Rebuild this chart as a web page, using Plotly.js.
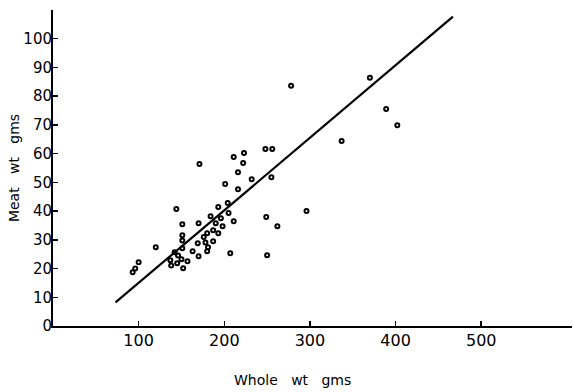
<!DOCTYPE html>
<html>
<head>
<meta charset="utf-8">
<script src="https://cdn.plot.ly/plotly-3.0.1.min.js"></script>
<style>html,body{margin:0;padding:0;background:#fff;}#chart{width:573px;height:392px;}</style>
</head>
<body>
<div id="chart"></div>
<script>
// Observed specimens: whole weight (g) vs meat weight (g)
const wholeWt = [93, 96, 100, 120, 137, 138, 142, 145, 150, 152,
  144, 151, 151, 151, 151, 163, 170, 169, 178, 181,
  180, 180, 187, 193, 198, 190, 170, 184, 193, 204,
  205, 196, 211, 207, 249, 262, 250, 296, 201, 216,
  232, 255, 216, 222, 171, 211, 223, 248, 256, 278,
  370, 389, 402, 337, 157, 146, 176, 187];
const meatWt = [18.7, 20, 22.2, 27.4, 22.9, 21.1, 25.7, 21.8, 23.2, 20.1,
  40.7, 35.4, 31.6, 29.8, 27.1, 26, 24.3, 28.8, 29.1, 27.4,
  26, 32.3, 33.3, 32.3, 34.7, 35.8, 35.8, 38.2, 41.4, 42.8,
  39.3, 37.5, 36.5, 25.3, 37.9, 34.7, 24.6, 40, 49.4, 47.6,
  51.1, 51.8, 53.5, 56.7, 56.4, 58.8, 60.2, 61.6, 61.6, 83.6,
  86.4, 75.5, 69.9, 64.4, 22.5, 24.5, 31, 29.5];
// Fitted line end points
const fitX = [73, 467];
const fitY = [8.2, 107.7];
const xTicks = [100, 200, 300, 400, 500];
const yTicks = [0, 10, 20, 30, 40, 50, 60, 70, 80, 90, 100];

const traces = [
  {x: wholeWt, y: meatWt, type: 'scatter', mode: 'markers',
   marker: {symbol: 'circle-open', size: 4, color: '#000', line: {width: 2, color: '#000'}},
   hoverinfo: 'x+y'},
  {x: fitX, y: fitY, type: 'scatter', mode: 'lines', line: {color: '#000', width: 2.2}}
];

const layout = {
  width: 573, height: 392,
  margin: {l: 53, r: 1, t: 10, b: 66},
  paper_bgcolor: '#fff', plot_bgcolor: '#fff',
  showlegend: false,
  font: {family: 'DejaVu Sans, sans-serif', color: '#000'},
  xaxis: {range: [0, 606], tickvals: xTicks, ticktext: xTicks.map(String),
    ticks: 'inside', ticklen: 5, tickwidth: 1.5, tickcolor: '#000',
    showline: true, linecolor: '#000', linewidth: 2, showgrid: false, zeroline: false,
    tickfont: {size: 16, color: '#000'}, ticklabelstandoff: -1},
  yaxis: {range: [0, 110], tickvals: yTicks, ticktext: yTicks.map(String),
    ticks: 'inside', ticklen: 5, tickwidth: 1.5, tickcolor: '#000',
    showline: true, linecolor: '#000', linewidth: 2, showgrid: false, zeroline: false,
    tickfont: {size: 15, color: '#000'}, ticklabelstandoff: -4},
  annotations: [
    {text: 'Whole   wt   gms', xref: 'paper', yref: 'paper', x: 0.462, y: -0.17,
     xanchor: 'center', yanchor: 'middle', showarrow: false, font: {size: 14, color: '#000'}},
    {text: 'Meat   wt   gms', xref: 'paper', yref: 'paper', x: -0.075, y: 0.5,
     xanchor: 'center', yanchor: 'middle', textangle: -90, showarrow: false, font: {size: 14, color: '#000'}}
  ]
};
Plotly.newPlot('chart', traces, layout, {displayModeBar: false, staticPlot: true});
</script>
</body>
</html>
